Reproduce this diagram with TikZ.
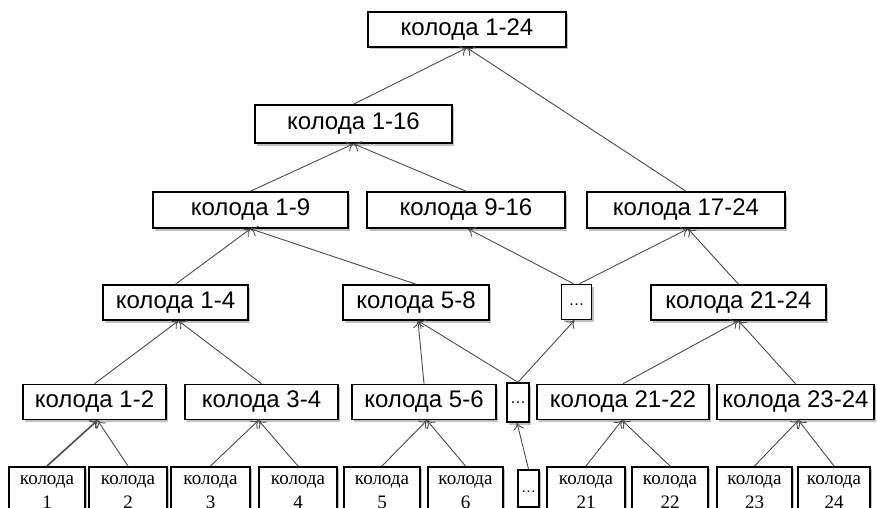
\documentclass[tikz,border=0pt]{standalone}
\usepackage{fontspec}
\setmainfont{Liberation Sans}
\newfontfamily\serifk{Liberation Serif}
\usetikzlibrary{shadows,arrows.meta}
\tikzset{
  box/.style={draw=black, line width=1.6pt, fill=white, inner sep=0pt,
    drop shadow={shadow xshift=2pt, shadow yshift=-2.5pt, fill=black!40, opacity=0.6},
    font=\fontsize{24}{26}\selectfont},
  leaf/.style={draw=black, line width=1.6pt, fill=white, inner sep=0pt, anchor=north,
    minimum height=50pt, align=center,
    drop shadow={shadow xshift=2pt, shadow yshift=-2.5pt, fill=black!40, opacity=0.6},
    font=\serifk\fontsize{19}{24}\selectfont},
  arr/.style={draw=black!70, line width=0.9pt, -{To[length=7pt,width=11pt]}},
}
\begin{document}
\begin{tikzpicture}[x=1pt,y=-1pt]
\useasboundingbox (0,0) rectangle (877,508);
\clip (0,0) rectangle (877,508);
\fill[white] (0,0) rectangle (877,508);
% level 0
\node[box, minimum width=198pt, minimum height=35pt] (n124) at (467,29.5) {колода 1-24};
% level 1
\node[box, minimum width=197pt, minimum height=38pt] (n116) at (353.5,124) {колода 1-16};
% level 2
\node[box, minimum width=195pt, minimum height=36pt] (n19) at (250.5,210) {колода 1-9};
\node[box, minimum width=198pt, minimum height=36pt] (n916) at (466,210) {колода 9-16};
\node[box, minimum width=198pt, minimum height=36pt] (n1724) at (686,210) {колода 17-24};
% level 3
\node[box, minimum width=145pt, minimum height=35pt] (n14) at (175.5,302.5) {колода 1-4};
\node[box, minimum width=146pt, minimum height=35pt] (n58) at (416,302.5) {колода 5-8};
\node[box, minimum width=30pt, minimum height=35pt, font=\fontsize{16}{18}\selectfont] (du) at (576.5,302) {\raisebox{-7pt}{…}};
\node[box, minimum width=175pt, minimum height=35pt] (n2124) at (738.5,302.5) {колода 21-24};
% level 4
\node[box, minimum width=143pt, minimum height=35pt] (n12) at (94.5,402) {колода 1-2};
\node[box, minimum width=153pt, minimum height=35pt] (n34) at (261.5,402) {колода 3-4};
\node[box, minimum width=144pt, minimum height=35pt] (n56) at (424,402) {колода 5-6};
\node[box, minimum width=22pt, minimum height=39pt, font=\fontsize{16}{18}\selectfont] (dl) at (518,402.5) {…};
\node[box, minimum width=172pt, minimum height=35pt] (n2122) at (623,402) {колода 21-22};
\node[box, minimum width=157pt, minimum height=35pt] (n2324) at (795.5,402) {колода 23-24};
% leaves
\node[leaf, minimum width=76pt] (k1) at (47,466) {колода\\1};
\node[leaf, minimum width=78pt] (k2) at (128,466) {колода\\2};
\node[leaf, minimum width=79pt] (k3) at (210.5,466) {колода\\3};
\node[leaf, minimum width=78pt] (k4) at (298,466) {колода\\4};
\node[leaf, minimum width=76pt] (k5) at (382,466) {колода\\5};
\node[leaf, minimum width=75pt] (k6) at (465.5,466) {колода\\6};
\node[leaf, minimum width=21pt, minimum height=37pt, font=\fontsize{15}{18}\selectfont] (kd) at (528.5,469) {\raisebox{-8pt}{…}};
\node[leaf, minimum width=78pt] (k21) at (586,466) {колода\\21};
\node[leaf, minimum width=76pt] (k22) at (670,466) {колода\\22};
\node[leaf, minimum width=75pt] (k23) at (754.5,466) {колода\\23};
\node[leaf, minimum width=72pt] (k24) at (834,466) {колода\\24};
% connectors
\draw[arr] (n116.north) -- (n124.south);
\draw[arr] (n1724.north) -- (n124.south);
\draw[arr] (n19.north) -- (n116.south);
\draw[arr] (n916.north) -- (n116.south);
\draw[arr] (n14.north) -- (n19.south);
\draw[arr] (n58.north) -- (n19.south);
\draw[arr] ([xshift=-3pt]du.north) -- ([xshift=2pt]n916.south);
\draw[arr] ([xshift=3pt]du.north) -- ([xshift=2pt]n1724.south);
\draw[arr] (n2124.north) -- ([xshift=2pt]n1724.south);
\draw[arr] (n12.north) -- ([xshift=3pt]n14.south);
\draw[arr] (n34.north) -- ([xshift=3pt]n14.south);
\draw[arr] (n56.north) -- ([xshift=2pt]n58.south);
\draw[arr] (dl.north) -- ([xshift=2pt]n58.south);
\draw[arr] (dl.north) -- ([xshift=-2pt]du.south);
\draw[arr] (n2122.north) -- (n2124.south);
\draw[arr] (n2324.north) -- (n2124.south);
\draw[arr, line width=1.6pt] (k1.north) -- ([xshift=3pt]n12.south);
\draw[arr] (k2.north) -- ([xshift=3pt]n12.south);
\draw[arr] (k3.north) -- ([xshift=-3pt]n34.south);
\draw[arr] (k4.north) -- ([xshift=-3pt]n34.south);
\draw[arr] (k5.north) -- ([xshift=3pt]n56.south);
\draw[arr] (k6.north) -- ([xshift=3pt]n56.south);
\draw[arr] (kd.north) -- ([xshift=-1pt]dl.south);
\draw[arr] (k21.north) -- ([xshift=-1pt]n2122.south);
\draw[arr] (k22.north) -- ([xshift=-1pt]n2122.south);
\draw[arr] (k23.north) -- ([xshift=3pt]n2324.south);
\draw[arr] (k24.north) -- ([xshift=3pt]n2324.south);
\end{tikzpicture}
\end{document}
